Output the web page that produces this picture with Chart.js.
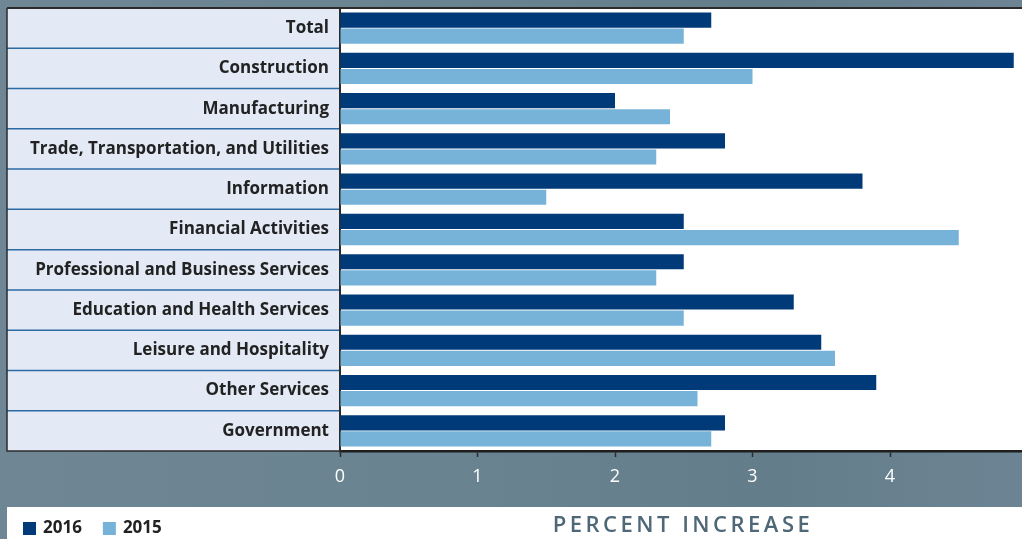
<!DOCTYPE html>
<html>
<head>
<meta charset="utf-8">
<script src="https://cdn.jsdelivr.net/npm/chart.js@4.4.1/dist/chart.umd.min.js"></script>
<style>
  html, body { margin: 0; padding: 0; }
  body {
    width: 1022px; height: 539px; overflow: hidden;
    background: linear-gradient(90deg, #6f8794 0%, #6a8391 45%, #647d8b 75%, #6c8493 100%);
  }
  canvas { display: block; }
</style>
</head>
<body>
<canvas id="myChart" width="1022" height="539"></canvas>
<script>
// data
const categories = [
  'Total', 'Construction', 'Manufacturing', 'Trade, Transportation, and Utilities',
  'Information', 'Financial Activities', 'Professional and Business Services',
  'Education and Health Services', 'Leisure and Hospitality', 'Other Services', 'Government'
];
const values2016 = [2.7, 4.9, 2.0, 2.8, 3.8, 2.5, 2.5, 3.3, 3.5, 3.9, 2.8];
const values2015 = [2.5, 3.0, 2.4, 2.3, 1.5, 4.5, 2.3, 2.5, 3.6, 2.6, 2.7];
const tickValues = [0, 1, 2, 3, 4];
const axisTitle = 'PERCENT INCREASE';

const FONT = '"Open Sans", "Noto Sans", sans-serif';

// label panel, white plot, bottom strip
const backdrop = {
  id: 'backdrop',
  beforeDraw(chart) {
    const { ctx, chartArea: a } = chart;
    const panelLeft = 7;
    ctx.save();
    ctx.fillStyle = '#e3eaf6';
    ctx.fillRect(panelLeft, a.top, a.left - panelLeft, a.bottom - a.top);
    ctx.fillStyle = '#ffffff';
    ctx.fillRect(a.left, a.top, a.right - a.left, a.bottom - a.top);
    // row separators
    const pitch = (a.bottom - a.top) / categories.length;
    ctx.strokeStyle = '#2c6aa2';
    ctx.lineWidth = 1.5;
    for (let i = 1; i < categories.length; i++) {
      const yy = a.top + i * pitch;
      ctx.beginPath();
      ctx.moveTo(panelLeft, yy);
      ctx.lineTo(a.left, yy);
      ctx.stroke();
    }
    // panel border
    ctx.strokeStyle = '#2b2b2b';
    ctx.lineWidth = 1.5;
    ctx.beginPath();
    ctx.moveTo(panelLeft, a.top);
    ctx.lineTo(panelLeft, a.bottom);
    ctx.lineTo(a.left, a.bottom);
    ctx.stroke();
    // top rule
    ctx.lineWidth = 2;
    ctx.beginPath();
    ctx.moveTo(panelLeft, a.top);
    ctx.lineTo(a.right, a.top);
    ctx.stroke();
    // bottom white strip
    ctx.fillStyle = '#ffffff';
    ctx.fillRect(panelLeft, 507, chart.width - panelLeft, chart.height - 507);
    ctx.restore();
  },
  afterDraw(chart) {
    const { ctx, chartArea: a } = chart;
    ctx.save();
    // legend
    ctx.textBaseline = 'middle';
    ctx.font = 'bold 17px ' + FONT;
    let x = 23;
    const yMid = 528;
    chart.data.datasets.forEach(ds => {
      ctx.fillStyle = ds.backgroundColor;
      ctx.fillRect(x, yMid - 6, 13, 13);
      ctx.fillStyle = '#222222';
      ctx.textAlign = 'left';
      ctx.fillText(ds.label, x + 20, yMid);
      x += 20 + ctx.measureText(ds.label).width + 21;
    });
    // axis title
    ctx.fillStyle = '#4e6877';
    ctx.font = '600 22px ' + FONT;
    ctx.letterSpacing = '3.5px';
    ctx.textAlign = 'center';
    ctx.fillText(axisTitle, (a.left + a.right) / 2 + 2, 526);
    ctx.restore();
  }
};

const data = {
  labels: categories,
  datasets: [
    {
      label: '2016',
      data: values2016,
      backgroundColor: '#003a78',
      categoryPercentage: 0.8,
      barPercentage: 0.94
    },
    {
      label: '2015',
      data: values2015,
      backgroundColor: '#77b3d9',
      categoryPercentage: 0.8,
      barPercentage: 0.94
    }
  ]
};

const config = {
  type: 'bar',
  data,
  options: {
    indexAxis: 'y',
    responsive: false,
    animation: false,
    layout: { padding: { left: 7, top: 8, right: 0, bottom: 0 } },
    plugins: {
      legend: { display: false },
      tooltip: { enabled: false }
    },
    scales: {
      x: {
        min: 0,
        max: 682 / 137.5,
        afterFit(scale) {
          scale.height = 88;
          scale.paddingLeft = 0;
          scale.paddingRight = 0;
        },
        afterBuildTicks(scale) { scale.ticks = tickValues.map(v => ({ value: v })); },
        grid: {
          drawOnChartArea: false,
          drawTicks: true,
          tickLength: 6,
          tickWidth: 1.5,
          tickColor: '#2b2b2b'
        },
        border: { display: true, color: '#1e1e1e', width: 2.5 },
        ticks: {
          color: '#ffffff',
          padding: 9,
          font: { family: FONT, size: 18 },
          callback: v => v
        }
      },
      y: {
        afterFit(scale) {
          scale.width = 333;
          scale.paddingTop = 0;
          scale.paddingBottom = 0;
        },
        grid: { display: false, drawTicks: false },
        border: { display: true, color: '#2b2b2b', width: 2 },
        ticks: {
          color: '#222222',
          padding: 11,
          font: { family: FONT, size: 17, weight: 'bold' }
        }
      }
    }
  },
  plugins: [backdrop]
};

const myChart = new Chart(document.getElementById('myChart'), config);
</script>
</body>
</html>
